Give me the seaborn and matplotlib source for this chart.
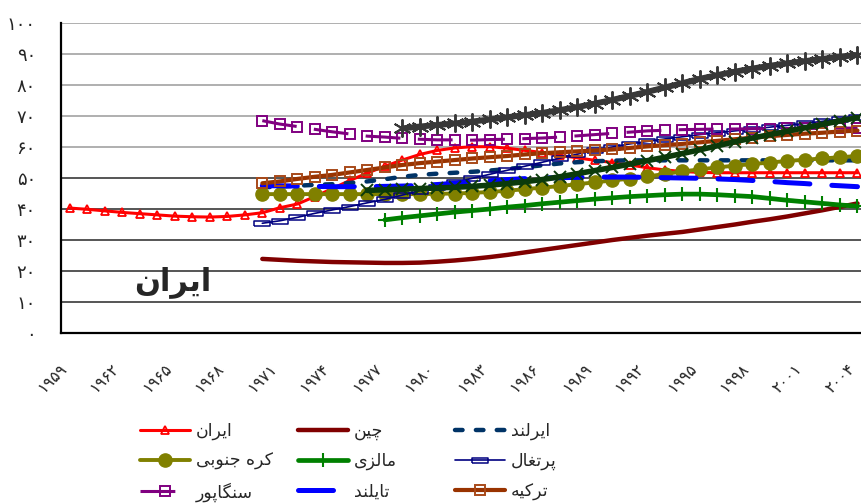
import numpy as np
import pandas as pd
import matplotlib
matplotlib.use("Agg")
import matplotlib.pyplot as plt
import seaborn as sns
from matplotlib.ticker import FixedLocator

# ---------------- data ----------------
iran_years = list(range(1959, 2005))
iran = [40.3, 39.9, 39.4, 38.9, 38.5, 38.1, 37.7, 37.5, 37.4, 37.6,
        38.1, 38.8, 40.4, 41.6, 44.0, 46.6, 49.2, 51.6, 53.8, 55.8,
        57.6, 58.9, 59.7, 60.1, 60.1, 59.6, 58.9, 58.2, 57.3, 56.5,
        55.7, 55.0, 54.2, 53.3, 52.6, 52.1, 51.8, 51.7, 51.7, 51.7,
        51.7, 51.7, 51.7, 51.7, 51.7, 51.7]

china_years = list(range(1970, 2005))
china = [23.9, 23.6, 23.3, 23.1, 22.9, 22.8, 22.7, 22.6, 22.6, 22.7,
         23.0, 23.4, 23.9, 24.5, 25.2, 26.0, 26.8, 27.6, 28.4, 29.2,
         30.0, 30.7, 31.4, 32.0, 32.6, 33.4, 34.2, 35.0, 35.9, 36.7,
         37.6, 38.6, 39.6, 40.7, 41.8]

ireland_years = list(range(1970, 2005))
ireland = [47.0, 47.2, 47.5, 47.8, 48.0, 48.4, 48.9, 49.6, 50.4, 51.0,
           51.4, 51.7, 52.0, 52.4, 52.9, 53.5, 54.1, 54.7, 55.1, 55.4,
           55.6, 55.7, 55.7, 55.7, 55.7, 55.7, 55.7, 55.7, 55.7, 55.7,
           55.7, 55.7, 55.7, 55.7, 55.7]

korea_years = list(range(1970, 2005))
korea = [44.8, 44.8, 44.8, 44.8, 44.8, 44.8, 44.8, 44.8, 44.8, 44.8,
         44.9, 45.0, 45.2, 45.5, 45.9, 46.4, 46.9, 47.4, 48.0, 48.6,
         49.2, 49.8, 50.5, 51.3, 52.1, 52.8, 53.4, 54.0, 54.5, 55.0,
         55.5, 55.9, 56.3, 56.7, 57.1]

malaysia_years = list(range(1977, 2005))
malaysia = [36.5, 37.2, 37.8, 38.4, 39.0, 39.5, 40.0, 40.6, 41.1, 41.7,
            42.2, 42.7, 43.2, 43.6, 44.0, 44.3, 44.6, 44.8, 44.8, 44.6,
            44.3, 44.0, 43.4, 42.8, 42.3, 41.8, 41.3, 40.9]

portugal_years = list(range(1970, 2005))
portugal = [35.4, 36.2, 37.3, 38.6, 39.7, 40.8, 42.0, 43.1, 44.5, 45.9,
            47.2, 48.6, 49.9, 51.2, 52.5, 53.8, 55.1, 56.4, 57.7, 58.9,
            60.0, 61.0, 61.8, 62.6, 63.3, 64.0, 64.6, 65.2, 65.8, 66.4,
            67.0, 67.6, 68.3, 69.0, 69.7]

singapore_years = list(range(1970, 2005))
singapore = [68.5, 67.4, 66.6, 65.7, 64.9, 64.2, 63.5, 63.2, 62.8, 62.5,
             62.3, 62.3, 62.2, 62.4, 62.5, 62.7, 62.9, 63.2, 63.6, 64.0,
             64.4, 64.8, 65.2, 65.4, 65.6, 65.7, 65.8, 65.8, 65.9, 65.9,
             66.0, 66.0, 66.0, 66.1, 66.1]

thailand_years = list(range(1970, 2005))
thailand = [47.5, 47.5, 47.4, 47.3, 47.2, 47.2, 47.2, 47.3, 47.4, 47.6,
            47.9, 48.3, 48.7, 49.1, 49.5, 49.8, 50.0, 50.1, 50.2, 50.3,
            50.3, 50.3, 50.2, 50.1, 50.0, 49.9, 49.7, 49.5, 49.2, 48.9,
            48.5, 48.2, 47.8, 47.5, 47.2]

turkey_years = list(range(1970, 2005))
turkey = [48.3, 48.9, 49.7, 50.4, 51.0, 51.8, 52.6, 53.4, 54.2, 54.8,
          55.3, 55.8, 56.3, 56.7, 57.1, 57.6, 58.0, 58.3, 58.6, 58.9,
          59.2, 59.7, 60.2, 60.6, 61.0, 61.5, 62.0, 62.5, 63.0, 63.5,
          63.9, 64.3, 64.6, 65.0, 65.3]

other_a_years = list(range(1978, 2005))
other_a = [66.0, 66.6, 67.1, 67.6, 68.2, 68.9, 69.6, 70.3, 71.0, 71.9,
           72.9, 74.0, 75.2, 76.5, 77.8, 79.2, 80.6, 82.0, 83.2, 84.3,
           85.3, 86.2, 87.0, 87.7, 88.4, 89.1, 89.7]

other_b_years = list(range(1976, 2005))
other_b = [46.0, 46.2, 46.4, 46.6, 46.8, 47.0, 47.3, 47.7, 48.2, 48.8,
           49.5, 50.4, 51.4, 52.4, 53.4, 54.5, 55.6, 56.7, 57.9, 59.1,
           60.4, 61.7, 62.9, 64.0, 65.1, 66.2, 67.3, 68.4, 69.5]

labels = ["ایران", "چین", "ایرلند", "کره جنوبی", "مالزی",
          "پرتغال", "سنگاپور", "تایلند", "ترکیه"]
y_ticks = [0, 10, 20, 30, 40, 50, 60, 70, 80, 90, 100]
x_label_years = list(range(1959, 2005, 3))
annotation = "ایران"

# ---------------- Persian text shaping (visual order) ----------------
FORMS = {
    'ا': (0xFE8D, 0xFE8E, None, None), 'د': (0xFEA9, 0xFEAA, None, None),
    'ر': (0xFEAD, 0xFEAE, None, None), 'ز': (0xFEAF, 0xFEB0, None, None),
    'و': (0xFEED, 0xFEEE, None, None),
    'ب': (0xFE8F, 0xFE90, 0xFE91, 0xFE92), 'پ': (0xFB56, 0xFB57, 0xFB58, 0xFB59),
    'ت': (0xFE95, 0xFE96, 0xFE97, 0xFE98), 'ج': (0xFE9D, 0xFE9E, 0xFE9F, 0xFEA0),
    'چ': (0xFB7A, 0xFB7B, 0xFB7C, 0xFB7D), 'س': (0xFEB1, 0xFEB2, 0xFEB3, 0xFEB4),
    'غ': (0xFECD, 0xFECE, 0xFECF, 0xFED0), 'ک': (0xFB8E, 0xFB8F, 0xFB90, 0xFB91),
    'گ': (0xFB92, 0xFB93, 0xFB94, 0xFB95), 'ل': (0xFEDD, 0xFEDE, 0xFEDF, 0xFEE0),
    'م': (0xFEE1, 0xFEE2, 0xFEE3, 0xFEE4), 'ن': (0xFEE5, 0xFEE6, 0xFEE7, 0xFEE8),
    'ه': (0xFEE9, 0xFEEA, 0xFEEB, 0xFEEC), 'ی': (0xFBFC, 0xFBFD, 0xFBFE, 0xFBFF),
}
DUAL = {k for k, v in FORMS.items() if v[2] is not None}


def shape(text):
    out = []
    for i, ch in enumerate(text):
        if ch not in FORMS:
            out.append(ch)
            continue
        prev = text[i - 1] if i > 0 else ''
        nxt = text[i + 1] if i + 1 < len(text) else ''
        jp = prev in DUAL
        jn = ch in DUAL and nxt in FORMS
        iso, fin, ini, med = FORMS[ch]
        if jp and jn:
            c = med
        elif jp:
            c = fin
        elif jn:
            c = ini
        else:
            c = iso
        out.append(chr(c))
    return ''.join(reversed(out))


def fa_digits(n):
    return str(n).translate(str.maketrans('0123456789', '۰۱۲۳۴۵۶۷۸۹'))


# ---------------- styling ----------------
sns.set_style("white")
plt.rcParams['font.family'] = ['DejaVu Sans']

W, H = 862, 503
fig = plt.figure(figsize=(W / 100, H / 100), dpi=100)
ax = fig.add_axes([61 / W, 1 - 333 / H, (W - 61) / W, 310 / H])

rect = [(-1, -0.3), (1, -0.3), (1, 0.3), (-1, 0.3), (-1, -0.3)]

series = [
    (iran_years, iran, dict(color='#FF0000', linewidth=2.2, marker='^', markersize=6,
                            markerfacecolor='none', markeredgecolor='#FF0000', markeredgewidth=1.3)),
    (china_years, china, dict(color='#800000', linewidth=3.2)),
    (ireland_years, ireland, dict(color='#003366', linewidth=3.2, linestyle=(0, (1.7, 3.0)),
                                  dash_capstyle='round')),
    (korea_years, korea, dict(color='#808000', linewidth=2.8, marker='o', markersize=9.5,
                              markerfacecolor='#808000', markeredgecolor='#808000', markeredgewidth=1)),
    (malaysia_years, malaysia, dict(color='#008000', linewidth=3.4, marker='+', markersize=10,
                                    markeredgecolor='#008000', markeredgewidth=1.5)),
    (portugal_years, portugal, dict(color='#000080', linewidth=1.2, marker=rect, markersize=12,
                                    markerfacecolor='none', markeredgecolor='#000080', markeredgewidth=1.1)),
    (singapore_years, singapore, dict(color='#800080', linewidth=2.2, linestyle=(0, (11.4, 5.7)),
                                      marker='s', markersize=6.5, markerfacecolor='none',
                                      markeredgecolor='#800080', markeredgewidth=1.4)),
    (thailand_years, thailand, dict(color='#0000FF', linewidth=3.6, linestyle=(0, (7.0, 4.4)),
                                    dash_capstyle='round')),
    (turkey_years, turkey, dict(color='#993300', linewidth=3.0, marker='s', markersize=7,
                                markerfacecolor='none', markeredgecolor='#A84A1A', markeredgewidth=1.4)),
    (other_a_years, other_a, dict(color='#383838', linewidth=4.3, marker=(6, 2, 0), markersize=13,
                                  markeredgecolor='#383838', markeredgewidth=1.4)),
    (other_b_years, other_b, dict(color='#0B3A0B', linewidth=4.0, marker='x', markersize=8,
                                  markeredgecolor='#0B3A0B', markeredgewidth=1.4)),
]

handles = []
for yrs, vals, style in series:
    df = pd.DataFrame({"year": yrs, "value": vals})
    sns.lineplot(data=df, x="year", y="value", ax=ax, estimator=None,
                 legend=False, **style)
    handles.append(ax.lines[-1])

# axes
ax.set_xlim(1958.5, 1959 + (W - 70) / 17.5)
ax.set_ylim(0, 100)
ax.set_xlabel("")
ax.set_ylabel("")

ax.set_yticks(y_ticks)
ax.set_yticklabels([fa_digits(v) for v in y_ticks], fontsize=13)
ax.tick_params(axis='y', which='major', length=6, width=1.4, direction='out', pad=12)
ax.yaxis.grid(True, linewidth=1.4)
for v, tick in zip(y_ticks, ax.yaxis.get_major_ticks()):
    col = '#AFAFAF' if v >= 60 else '#555555'
    tick.gridline.set_color(col)
    tick.tick1line.set_color(col)

ax.set_xticks(x_label_years)
ax.set_xticklabels([fa_digits(y) for y in x_label_years], rotation=45,
                   ha='right', va='top', fontsize=11.5)
ax.tick_params(axis='x', which='major', length=0, pad=20)
ax.xaxis.set_minor_locator(FixedLocator(np.arange(1958.5, 2005.5, 1)))
ax.tick_params(axis='x', which='minor', length=5, width=1, color='#404040', direction='out')
ax.xaxis.grid(False)

for s in ['top', 'right']:
    ax.spines[s].set_visible(False)
for s in ['left', 'bottom']:
    ax.spines[s].set_visible(True)
    ax.spines[s].set_color('black')
    ax.spines[s].set_linewidth(1.6)

ax.text(1964.9, 16.5, shape(annotation), fontsize=22, fontweight='bold',
        ha='center', va='center')

# legend: three columns placed like the reference
col_x = [140 / W, 298 / W, 455 / W]
for c in range(3):
    idx = [c, c + 3, c + 6]
    fig.legend([handles[i] for i in idx], [shape(labels[i]) for i in idx],
               loc='upper left', bbox_to_anchor=(col_x[c], 1 - 422 / H),
               frameon=False, fontsize=12.5, handlelength=2.9, handletextpad=0.3,
               labelspacing=0.68, borderpad=0, borderaxespad=0, numpoints=1)

fig.savefig("out.png", dpi=100)
